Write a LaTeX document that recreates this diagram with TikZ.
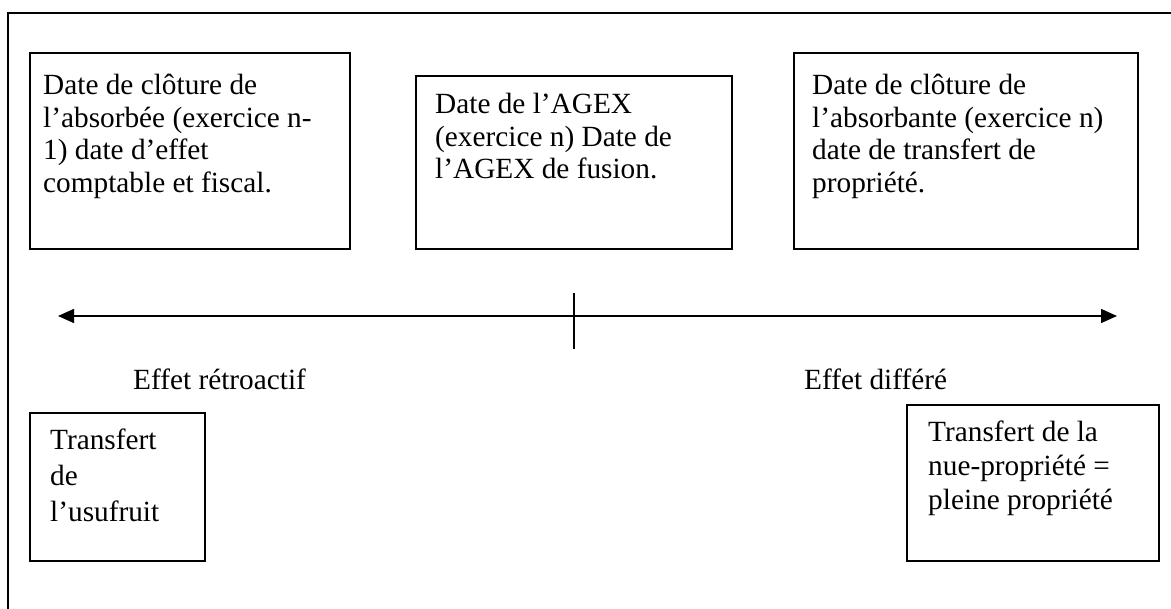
\documentclass[tikz,border=0pt]{standalone}
\usepackage{fontspec}
\setmainfont{Liberation Serif}
\usetikzlibrary{arrows.meta}
\begin{document}
\begin{tikzpicture}[x=1pt,y=-1pt,
  boxline/.style={draw=black, line width=2pt, rectangle, inner sep=0pt, anchor=north west},
  frameline/.style={draw=black, line width=2.6pt},
  txt/.style={anchor=base west, inner sep=0pt, font=\fontsize{29.3}{32.5}\selectfont},
  tickline/.style={draw=black, line width=1.6pt},
  timeline/.style={draw=black, line width=1.6pt, {Triangle[length=16pt,width=14pt]}-{Triangle[length=16pt,width=14pt]}}]
\useasboundingbox (0,0) rectangle (1171,609);
% outer frame (only top and left edges visible)
\coordinate (fB) at (8,615);
\coordinate (fTL) at (8,13);
\coordinate (fR) at (1180,13);
\draw[frameline] (fB) -- (fTL) -- (fR);
% boxes
\node[boxline, minimum width=320pt, minimum height=196pt] (b1) at (29,52) {};
\node[boxline, minimum width=316pt, minimum height=173pt] (b2) at (415,75) {};
\node[boxline, minimum width=344pt, minimum height=196pt] (b3) at (793,52) {};
\node[boxline, minimum width=175pt, minimum height=148pt] (b4) at (29,412) {};
\node[boxline, minimum width=252pt, minimum height=156pt] (b5) at (906,404) {};
% texts
\node[txt] (t1) at (43,95) {\parbox[t]{320pt}{Date de clôture de\\ l’absorbée (exercice n-\\ 1) date d’effet\\ comptable et fiscal.}};
\node[txt] (t2) at (435,114) {\parbox[t]{320pt}{Date de l’AGEX\\ (exercice n) Date de\\ l’AGEX de fusion.}};
\node[txt] (t3) at (812,95) {\parbox[t]{340pt}{Date de clôture de\\ l’absorbante (exercice n)\\ date de transfert de\\ propriété.}};
\node[txt] (t4) at (50,450) {\parbox[t]{200pt}{\baselineskip=36pt Transfert\\ de\\ l’usufruit}};
\node[txt] (t5) at (928,442) {\parbox[t]{250pt}{\baselineskip=34pt Transfert de la\\ nue-propriété =\\ pleine propriété}};
% timeline
\coordinate (aL) at (58,316);
\coordinate (aR) at (1117,316);
\draw[timeline] (aL) -- (aR);
\coordinate (tT) at (574,293);
\coordinate (tB) at (574,349);
\draw[tickline] (tT) -- (tB);
% labels
\node[txt] (l1) at (133,390) {Effet rétroactif};
\node[txt] (l2) at (804,390) {Effet différé};
\end{tikzpicture}
\end{document}
